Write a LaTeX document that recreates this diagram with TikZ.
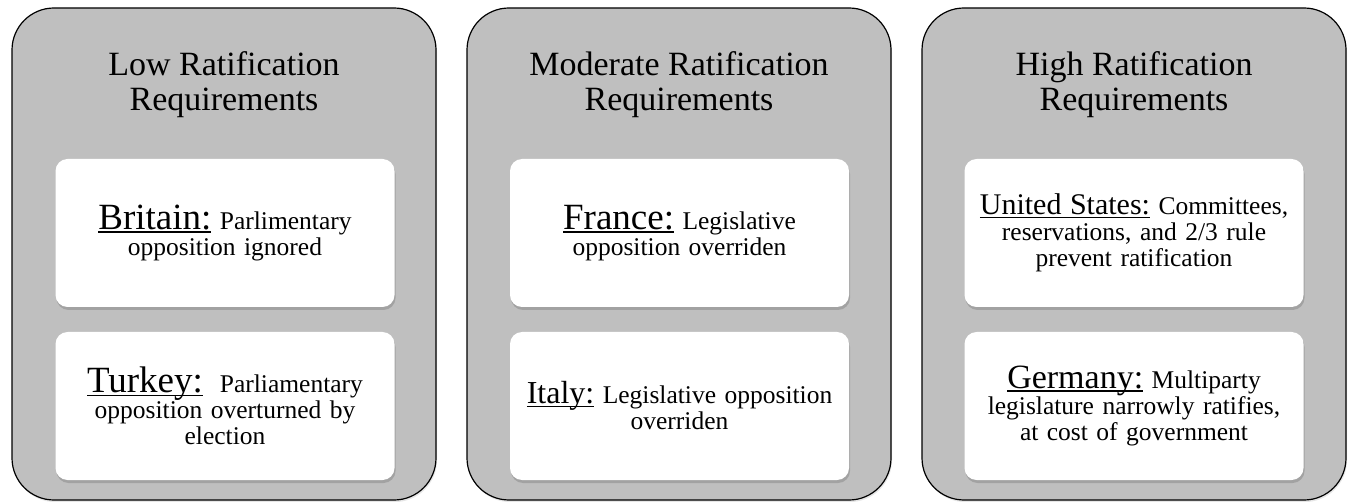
\documentclass[tikz,border=0pt]{standalone}
\usepackage{fontspec}
\setmainfont{Liberation Serif}
\usetikzlibrary{shadows}
\definecolor{panelgray}{HTML}{BFBFBF}
% underlined country name, size as optional argument
\newcommand{\nation}[2][37]{{\fontsize{#1}{30}\selectfont
  \setbox0\hbox{#2}\rlap{\rule[-3.5pt]{\wd0}{1.6pt}}\box0}}
\tikzset{
  panel/.style={
    draw=black, line width=1.2pt, fill=panelgray, rounded corners=42pt,
    minimum width=424pt, minimum height=492pt,
    drop shadow={opacity=0.2, shadow xshift=1pt, shadow yshift=-2pt}
  },
  heading/.style={align=center, font=\fontsize{34}{35}\selectfont},
  card/.style={
    fill=white, rounded corners=12pt, minimum width=339pt, minimum height=148pt,
    inner xsep=0pt, text width=339pt, align=center, font=\fontsize{25.5}{26}\selectfont,
    drop shadow={opacity=0.45, shadow xshift=1pt, shadow yshift=-3pt}
  }
}

\begin{document}
\begin{tikzpicture}[x=1pt, y=-1pt]
    \useasboundingbox (0,0) rectangle (1351,502);

    % Panels
    \node[panel] (low)  at (224,254)  {};
    \node[panel] (mod)  at (679,254)  {};
    \node[panel] (high) at (1134,254) {};

    % Headings
    \node[heading] (lowtitle)  at (224,85)  {Low Ratification\\Requirements};
    \node[heading] (modtitle)  at (679,85)  {Moderate Ratification\\Requirements};
    \node[heading] (hightitle) at (1134,85) {High Ratification\\Requirements};

    % Cases
    \node[card] (britain) at (225,233) {\nation{Britain:} Parlimentary\\opposition ignored};
    \node[card] (turkey)  at (225,406) {\nation{Turkey:}\ \ Parliamentary\\opposition overturned by\\election};
    \node[card] (france)  at (679.5,233) {\nation{France:} Legislative\\opposition overriden};
    \node[card] (italy)   at (679.5,406) {\nation[32]{Italy:} Legislative opposition\\overriden};
    \node[card] (usa)     at (1134,233) {\nation[30]{United States:} Committees,\\reservations, and 2/3 rule\\prevent ratification};
    \node[card] (germany) at (1134,406) {\nation[34]{Germany:} Multiparty\\legislature narrowly ratifies,\\at cost of government};

\end{tikzpicture}
\end{document}
